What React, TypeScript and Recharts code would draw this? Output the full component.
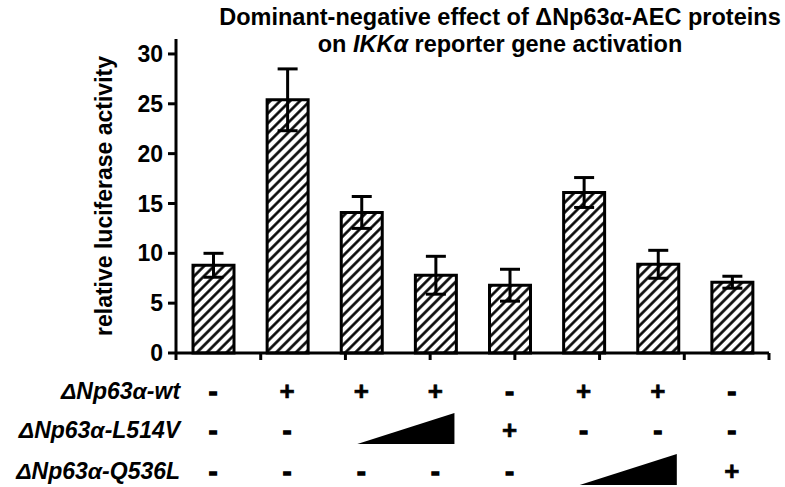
import { BarChart, Bar, XAxis, YAxis, ErrorBar } from "recharts";

const lanes = ["1", "2", "3", "4", "5", "6", "7", "8"];
const activity = [8.8, 25.4, 14.1, 7.8, 6.8, 16.1, 8.9, 7.1];
const activityErr = [1.2, 3.1, 1.6, 1.9, 1.6, 1.5, 1.4, 0.6];
const yTicks = [0, 5, 10, 15, 20, 25, 30];
const laneEdges = [0, 1, 2, 3, 4, 5, 6, 7, 8];

const rowLabels = ["ΔNp63α-wt", "ΔNp63α-L514V", "ΔNp63α-Q536L"];
const wtRow = ["-", "+", "+", "+", "-", "+", "+", "-"];
const l514vRow = ["-", "-", "ramp", "ramp", "+", "-", "-", "-"];
const q536lRow = ["-", "-", "-", "-", "-", "ramp", "ramp", "+"];

const data = lanes.map((lane, i) => ({
  lane,
  value: activity[i],
  err: activityErr[i],
}));

const W = 785;
const H = 487;
const LEFT = 176;
const RIGHT = 16;
const BAND = (W - LEFT - RIGHT) / lanes.length;
const FONT = "'Liberation Sans', Arial, sans-serif";
const rowOffsets = [30, 69, 110];

function TableTick(props: any) {
  const { x, y, index } = props;
  const rows = [wtRow, l514vRow, q536lRow];
  return (
    <g>
      {rows.map((row, r) => {
        const cy = y + rowOffsets[r];
        const mark = row[index];
        const items = [];
        if (index === 0) {
          items.push(
            <text
              key={"l" + r}
              x={x - 33}
              y={cy}
              dy="0.35em"
              textAnchor="end"
              fontFamily={FONT}
              fontWeight="bold"
              fontStyle="italic"
              fontSize={23}
              fill="#000"
            >
              {rowLabels[r]}
            </text>
          );
        }
        if (mark === "ramp") {
          if (index === 0 || row[index - 1] !== "ramp") {
            const x0 = x - 4;
            const x1 = x + BAND + 19;
            items.push(
              <polygon
                key={"t" + r}
                points={`${x0},${cy + 14} ${x1},${cy + 14} ${x1},${cy - 17}`}
                fill="#000"
              />
            );
          }
        } else {
          items.push(
            <text
              key={"s" + r}
              x={x}
              y={cy}
              dy="0.35em"
              textAnchor="middle"
              fontFamily={FONT}
              fontWeight="bold"
              fontSize={26}
              fill="#000"
              stroke="#000"
              strokeWidth={mark === "-" ? 1.5 : 0.6}
            >
              {mark}
            </text>
          );
        }
        return <g key={r}>{items}</g>;
      })}
    </g>
  );
}

export default function App() {
  return (
    <div style={{ position: "absolute", left: 0, top: 0, width: W, height: H, background: "#fff" }}>
      <div
        style={{
          position: "absolute",
          left: 200,
          width: 600,
          top: 4,
          textAlign: "center",
          fontFamily: FONT,
          fontWeight: "bold",
          fontSize: 23.5,
          lineHeight: "27px",
          color: "#000",
          whiteSpace: "nowrap",
        }}
      >
        <div>Dominant-negative effect of ΔNp63α-AEC proteins</div>
        <div>
          on <i>IKKα</i> reporter gene activation
        </div>
      </div>
      <BarChart
        width={W}
        height={H}
        data={data}
        margin={{ top: 39, right: RIGHT, left: 0, bottom: 0 }}
        barCategoryGap={0}
      >
        <defs>
          <pattern
            id="hatch"
            width="7"
            height="7"
            patternUnits="userSpaceOnUse"
            patternTransform="rotate(45)"
          >
            <rect width="7" height="7" fill="#fff" />
            <line x1="3.5" y1="0" x2="3.5" y2="7" stroke="#000" strokeWidth={2.6} />
          </pattern>
        </defs>
        <XAxis
          xAxisId="edge"
          type="number"
          domain={[0, 8]}
          ticks={laneEdges}
          height={8}
          axisLine={{ stroke: "#000", strokeWidth: 3 }}
          tickLine={{ stroke: "#000", strokeWidth: 3 }}
          tickSize={7}
          tickFormatter={() => ""}
        />
        <XAxis
          xAxisId="lane"
          dataKey="lane"
          height={126}
          axisLine={false}
          tickLine={false}
          tickSize={0}
          tickMargin={0}
          interval={0}
          tick={<TableTick />}
        />
        <YAxis
          width={LEFT}
          domain={[0, 31.5]}
          ticks={yTicks}
          axisLine={{ stroke: "#000", strokeWidth: 3 }}
          tickLine={{ stroke: "#000", strokeWidth: 3 }}
          tickSize={8}
          tickMargin={5}
          tick={{ fill: "#000", fontFamily: FONT, fontWeight: "bold", fontSize: 23 }}
          label={{
            value: "relative luciferase activity",
            angle: -90,
            position: "center",
            dx: 16,
            style: { fill: "#000", fontFamily: FONT, fontWeight: "bold", fontSize: 23 },
          }}
        />
        <Bar
          xAxisId="lane"
          dataKey="value"
          barSize={41}
          fill="url(#hatch)"
          stroke="#000"
          strokeWidth={3}
          isAnimationActive={false}
        >
          <ErrorBar dataKey="err" width={10} stroke="#000" strokeWidth={3} direction="y" />
        </Bar>
      </BarChart>
    </div>
  );
}
